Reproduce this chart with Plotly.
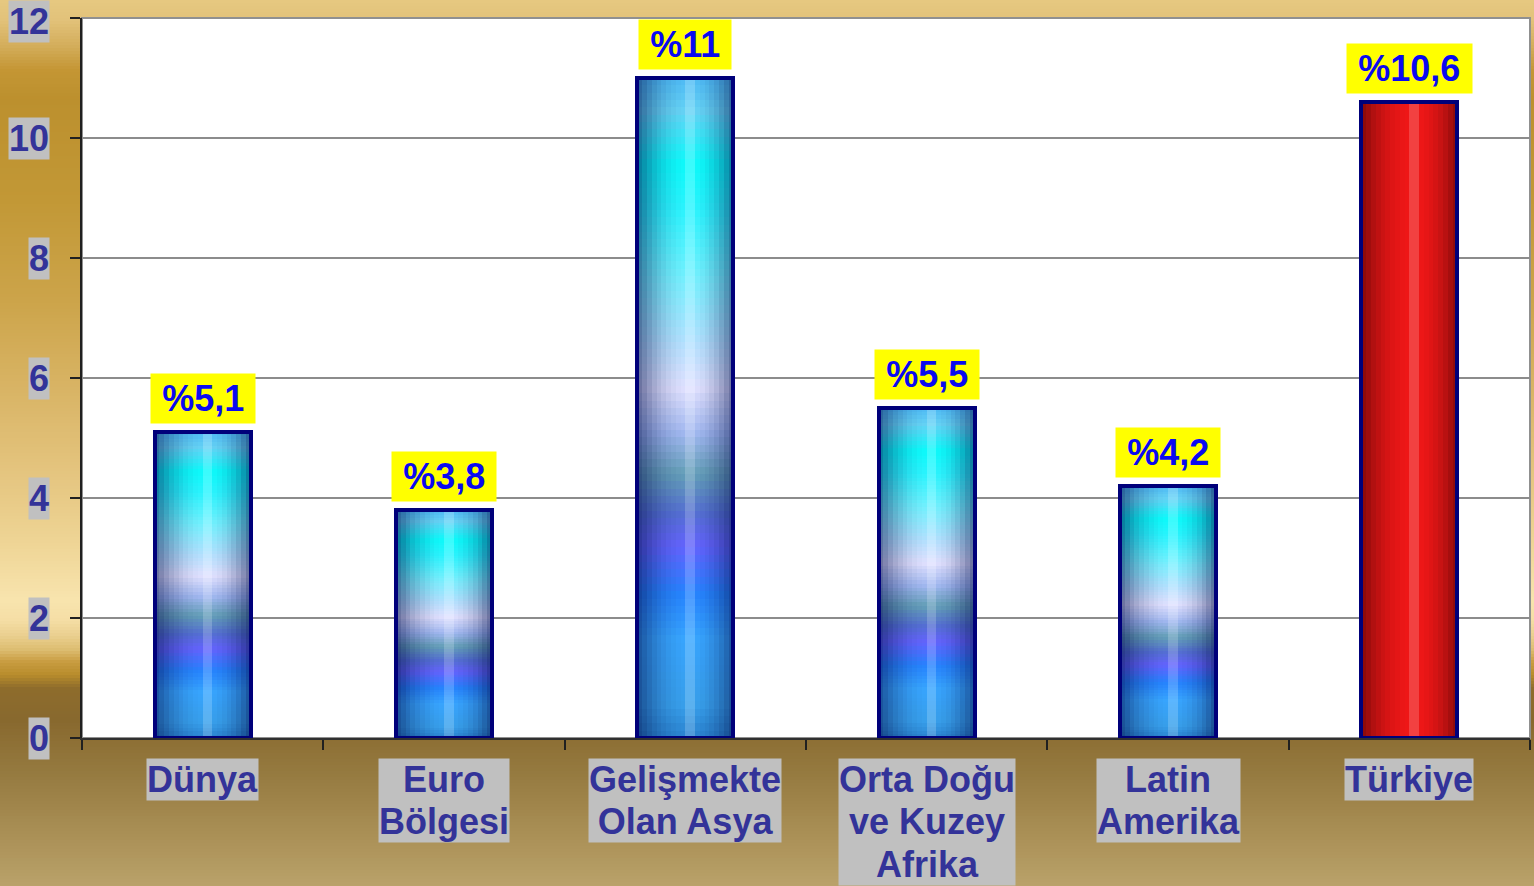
import plotly.graph_objects as go

# ---------------- data ----------------
categories = ["Dünya", "Euro Bölgesi", "Gelişmekte Olan Asya",
              "Orta Doğu ve Kuzey Afrika", "Latin Amerika", "Türkiye"]
category_labels = ["Dünya", "Euro<br>Bölgesi", "Gelişmekte<br>Olan Asya",
                   "Orta Doğu<br>ve Kuzey<br>Afrika", "Latin<br>Amerika", "Türkiye"]
growth = [5.1, 3.8, 11.0, 5.5, 4.2, 10.6]
value_labels = ["%5,1", "%3,8", "%11", "%5,5", "%4,2", "%10,6"]
y_ticks = [0, 2, 4, 6, 8, 10, 12]
is_turkey = [False, False, False, False, False, True]

# ---------------- style helpers ----------------
FONT = "Liberation Sans, Arial, sans-serif"
LABEL_COLOR = "#333399"
W, H = 1534, 886
ML, MR, MT, MB = 82, 4, 18, 148
PW, PH = W - ML - MR, H - MT - MB


def rgb(h):
    h = h.lstrip('#')
    return tuple(int(h[i:i + 2], 16) for i in (0, 2, 4))


def lerp(a, b, t):
    return tuple(a[i] + (b[i] - a[i]) * t for i in range(3))


def css(c):
    return 'rgb(%d,%d,%d)' % tuple(max(0, min(255, round(v))) for v in c)


def interp(stops, pos):
    if pos <= stops[0][0]:
        return rgb(stops[0][1])
    for (p0, c0), (p1, c1) in zip(stops, stops[1:]):
        if p0 <= pos <= p1:
            t = (pos - p0) / (p1 - p0) if p1 > p0 else 0
            return lerp(rgb(c0), rgb(c1), t)
    return rgb(stops[-1][1])


# vertical colour profile of the blue bars (fraction of bar height -> colour)
blue_stops = [
    (0.00, '#2A84D0'), (0.05, '#38A0EC'), (0.15, '#38A6FF'), (0.22, '#2684FF'),
    (0.29, '#6464FF'), (0.34, '#5670D4'), (0.40, '#64A0B8'), (0.46, '#A0B8F0'),
    (0.53, '#E2E2FF'), (0.60, '#B4E2FF'), (0.70, '#74F2FF'), (0.80, '#2CF6FF'),
    (0.87, '#0CFCFC'), (0.95, '#66D4F6'), (1.00, '#50BCF6'),
]
red_mid = '#F01818'

BAR_W = 0.398
N_SEG = 90
N_STRIPES = 20

fig = go.Figure()

# vertical gradient: stacked slices of every bar
for k in range(N_SEG):
    f0, f1 = k / N_SEG, (k + 1) / N_SEG
    c = css(interp(blue_stops, (f0 + f1) / 2))
    cols = [red_mid if red else c for red in is_turkey]
    fig.add_trace(go.Bar(
        x=categories,
        y=[v * (f1 - f0) for v in growth],
        base=[v * f0 for v in growth],
        width=BAR_W,
        marker=dict(color=cols, line=dict(color=cols, width=1)),
        hoverinfo='skip', showlegend=False,
    ))


def shade_weight(u):
    hc = 0.55
    d = (u - hc) / (hc if u < hc else 1 - hc)
    return max(0.0, 1 - d * d)


# horizontal (cylinder) shading across each bar
for j in range(N_STRIPES):
    u = (j + 0.5) / N_STRIPES
    t = shade_weight(u)
    if abs(u - 0.55) < 0.03:
        cols = ['rgba(255,255,255,0.18)' for _ in is_turkey]
    else:
        a = 0.56 * (1 - t)
        cols = ['rgba(50,0,0,%.3f)' % a if red else 'rgba(0,10,70,%.3f)' % a
                for red in is_turkey]
    fig.add_trace(go.Bar(
        x=categories, y=growth,
        width=BAR_W / N_STRIPES,
        offset=-BAR_W / 2 + j * BAR_W / N_STRIPES,
        marker=dict(color=cols, line=dict(width=0)),
        hoverinfo='skip', showlegend=False,
    ))

# bar outline
fig.add_trace(go.Bar(
    x=categories, y=growth, width=BAR_W,
    marker=dict(color='rgba(0,0,0,0)', line=dict(color='#00007A', width=4)),
    hoverinfo='skip', showlegend=False,
))

# ---------------- background gradient ----------------
bg_stops = [(0, '#E6C880'), (20, '#E2C27A'), (45, '#D4AE5C'), (70, '#C49634'),
            (100, '#BC902E'), (200, '#C29836'), (300, '#CCA44A'), (400, '#DAB668'),
            (470, '#E4C47E'), (540, '#EED494'), (600, '#F8E4AE'), (620, '#F5DEA5'),
            (635, '#EBD090'), (650, '#DCBC70'), (662, '#C89C40'), (675, '#B88C2C'),
            (688, '#8E6C2C'), (720, '#88692E'), (780, '#977C42'), (830, '#A88E54'),
            (886, '#BAA26A')]
shapes = []
step = 3
x0p, x1p = -ML / PW, (W - ML) / PW
for ypx in range(0, H, step):
    c = interp(bg_stops, ypx + step / 2)
    shapes.append(dict(type='rect', xref='paper', yref='paper', layer='below',
                       x0=x0p, x1=x1p,
                       y0=(H - MB - (ypx + step + 0.6)) / PH,
                       y1=(H - MB - ypx) / PH,
                       fillcolor=css(c), line=dict(width=0)))
shapes.append(dict(type='rect', xref='paper', yref='paper', layer='below',
                   x0=0, x1=1, y0=0, y1=1, fillcolor='white',
                   line=dict(color='#909090', width=2)))

# ---------------- annotations ----------------
ann = []
for v in y_ticks:
    ann.append(dict(xref='paper', yref='y', x=0, y=v, text=str(v),
                    xanchor='right', yanchor='middle', xshift=-32,
                    yshift=-3 if v == max(y_ticks) else 0, showarrow=False,
                    bgcolor='#C0C0C0', borderpad=0,
                    font=dict(family=FONT, size=36, color=LABEL_COLOR, weight='bold')))
for c, lab in zip(categories, category_labels):
    txt = '<br>'.join('<span style="font-size:36px">%s</span>' % line
                      for line in lab.split('<br>'))
    ann.append(dict(xref='x', yref='paper', x=c, y=0, text=txt,
                    xanchor='center', yanchor='top', yshift=-20, showarrow=False,
                    bgcolor='#C0C0C0', borderpad=0,
                    font=dict(family=FONT, size=32.5, color=LABEL_COLOR, weight='bold')))
for c, v, lab in zip(categories, growth, value_labels):
    ann.append(dict(xref='x', yref='y', x=c, y=v, text='\u2009' + lab + '\u2009',
                    xanchor='center', yanchor='bottom', yshift=8, showarrow=False,
                    bgcolor='#FFFF00', borderpad=4,
                    font=dict(family=FONT, size=36, color='#0A0AF0', weight='bold')))

fig.update_layout(
    width=W, height=H,
    margin=dict(l=ML, r=MR, t=MT, b=MB, pad=0),
    paper_bgcolor='#C8A048', plot_bgcolor='rgba(0,0,0,0)',
    barmode='overlay', bargap=0,
    shapes=shapes, annotations=ann,
    xaxis=dict(type='category', categoryorder='array', categoryarray=categories,
               range=[-0.5, len(categories) - 0.5], showgrid=False,
               showticklabels=False, ticks='outside', tickson='boundaries',
               ticklen=10, tickcolor='#202020', tickwidth=1.5,
               showline=True, linecolor='#303030', linewidth=1.5, fixedrange=True),
    yaxis=dict(range=[0, 12], tickvals=y_ticks, showgrid=True, gridcolor='#8C8C8C',
               gridwidth=2, showticklabels=False, ticks='outside', ticklen=10,
               tickcolor='#202020', tickwidth=1.5, zeroline=False,
               showline=True, linecolor='#202020', linewidth=1.5, fixedrange=True),
)

fig.write_html("out.html",
               config={'displayModeBar': False},
               post_script="document.body.style.margin='0';"
                           "document.body.style.overflow='hidden';")
